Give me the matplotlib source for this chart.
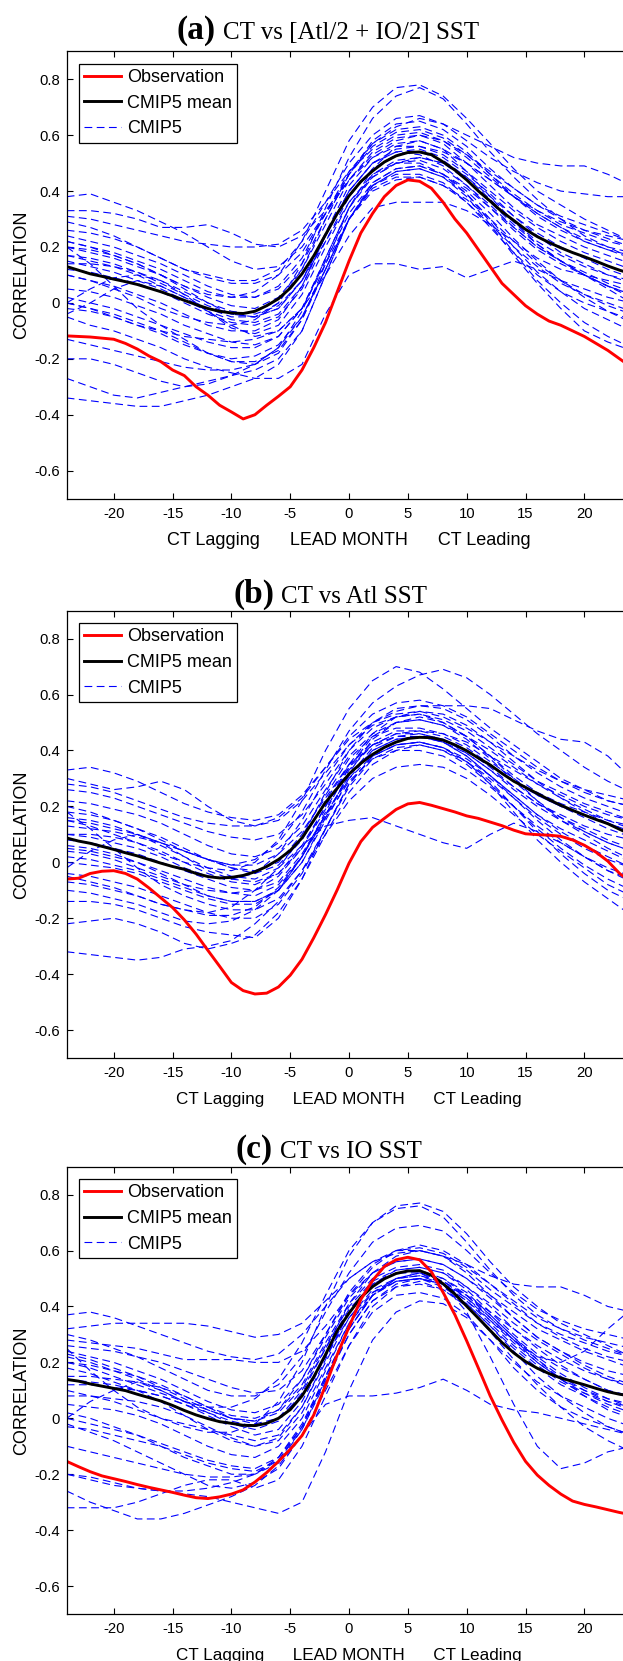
import numpy as np
import matplotlib
matplotlib.use("Agg")
import matplotlib.pyplot as plt

plt.rcParams['font.family'] = ['Liberation Sans', 'DejaVu Sans']
plt.rcParams['axes.unicode_minus'] = False

# ---------------- data ----------------
lead_obs = list(range(-24, 25))          # monthly leads for obs / mean
lead_mod = list(range(-24, 25, 2))       # every 2 months for model curves

xticks = [-20, -15, -10, -5, 0, 5, 10, 15, 20]
yticks = [-0.6, -0.4, -0.2, 0.0, 0.2, 0.4, 0.6, 0.8]
ytick_labels = ['-0.6', '-0.4', '-0.2', '0', '0.2', '0.4', '0.6', '0.8']

panel_letters = ['(a)', '(b)', '(c)']
panel_titles = ['CT vs [Atl/2 + IO/2] SST', 'CT vs Atl SST', 'CT vs IO SST']
legend_labels = ['Observation', 'CMIP5 mean', 'CMIP5']
xlabel_text = 'CT Lagging      LEAD MONTH      CT Leading'
ylabel_text = 'CORRELATION'

# Panel (a)
obs_a = [-0.118, -0.120, -0.122, -0.126, -0.130, -0.145, -0.165, -0.190, -0.210, -0.240,
         -0.260, -0.300, -0.330, -0.366, -0.390, -0.415, -0.400, -0.366, -0.334, -0.300,
         -0.240, -0.160, -0.070, 0.040, 0.150, 0.250, 0.320, 0.380, 0.420, 0.440,
         0.435, 0.410, 0.360, 0.300, 0.250, 0.190, 0.130, 0.070, 0.030, -0.010,
         -0.040, -0.065, -0.080, -0.100, -0.120, -0.145, -0.170, -0.200, -0.230]
mean_a = [0.130, 0.117, 0.104, 0.095, 0.085, 0.076, 0.066, 0.053, 0.040, 0.025,
          0.009, -0.006, -0.020, -0.030, -0.036, -0.038, -0.030, -0.010, 0.015, 0.053,
          0.104, 0.168, 0.244, 0.320, 0.383, 0.434, 0.472, 0.504, 0.526, 0.538,
          0.540, 0.530, 0.504, 0.475, 0.440, 0.400, 0.364, 0.326, 0.295, 0.263,
          0.237, 0.216, 0.197, 0.180, 0.165, 0.149, 0.132, 0.117, 0.104]
models_a = [
    [0.22, 0.2, 0.17, 0.14, 0.1, 0.06, 0.03, 0.02, 0.04, 0.1, 0.22, 0.4, 0.58, 0.7, 0.77, 0.78, 0.74, 0.66, 0.57, 0.48, 0.4, 0.35, 0.3, 0.26, 0.22],
    [0.1, 0.08, 0.05, 0.02, -0.02, -0.05, -0.07, -0.08, -0.06, 0.0, 0.14, 0.34, 0.52, 0.66, 0.74, 0.77, 0.73, 0.64, 0.54, 0.45, 0.37, 0.3, 0.24, 0.2, 0.16],
    [0.17, 0.15, 0.13, 0.1, 0.06, 0.02, -0.02, -0.05, -0.05, 0.0, 0.12, 0.3, 0.46, 0.57, 0.63, 0.66, 0.64, 0.6, 0.56, 0.52, 0.5, 0.49, 0.49, 0.46, 0.42],
    [0.29, 0.27, 0.24, 0.2, 0.16, 0.12, 0.1, 0.08, 0.08, 0.12, 0.22, 0.36, 0.5, 0.6, 0.66, 0.67, 0.64, 0.58, 0.52, 0.47, 0.43, 0.4, 0.39, 0.38, 0.38],
    [-0.05, -0.08, -0.1, -0.13, -0.16, -0.2, -0.23, -0.25, -0.27, -0.27, -0.22, -0.04, 0.1, 0.14, 0.14, 0.12, 0.13, 0.09, 0.12, 0.15, 0.12, 0.08, 0.05, 0.02, 0.0],
    [0.0, -0.02, -0.05, -0.08, -0.1, -0.12, -0.13, -0.14, -0.13, -0.1, -0.02, 0.1, 0.24, 0.34, 0.36, 0.36, 0.36, 0.33, 0.28, 0.22, 0.16, 0.12, 0.1, 0.08, 0.06],
    [0.38, 0.39, 0.36, 0.33, 0.29, 0.25, 0.2, 0.15, 0.12, 0.13, 0.2, 0.32, 0.44, 0.53, 0.58, 0.6, 0.58, 0.53, 0.47, 0.41, 0.35, 0.31, 0.28, 0.25, 0.22],
    [0.33, 0.33, 0.32, 0.3, 0.27, 0.27, 0.28, 0.25, 0.21, 0.2, 0.24, 0.33, 0.44, 0.52, 0.57, 0.58, 0.55, 0.5, 0.44, 0.38, 0.33, 0.29, 0.26, 0.24, 0.22],
    [0.31, 0.3, 0.28, 0.26, 0.24, 0.22, 0.21, 0.2, 0.2, 0.21, 0.26, 0.36, 0.47, 0.55, 0.6, 0.61, 0.58, 0.52, 0.45, 0.38, 0.32, 0.27, 0.23, 0.2, 0.18],
    [0.22, 0.2, 0.18, 0.15, 0.12, 0.08, 0.04, 0.02, 0.02, 0.06, 0.16, 0.32, 0.47, 0.57, 0.62, 0.63, 0.6, 0.54, 0.46, 0.38, 0.31, 0.26, 0.22, 0.19, 0.17],
    [0.2, 0.18, 0.16, 0.13, 0.1, 0.06, 0.02, -0.01, -0.02, 0.02, 0.12, 0.28, 0.44, 0.54, 0.59, 0.6, 0.57, 0.5, 0.42, 0.34, 0.28, 0.24, 0.2, 0.17, 0.14],
    [0.17, 0.16, 0.14, 0.11, 0.07, 0.03, -0.01, -0.04, -0.05, -0.02, 0.08, 0.25, 0.42, 0.52, 0.56, 0.56, 0.53, 0.47, 0.4, 0.33, 0.27, 0.22, 0.18, 0.15, 0.12],
    [0.15, 0.13, 0.11, 0.08, 0.05, 0.01, -0.03, -0.06, -0.07, -0.04, 0.06, 0.24, 0.4, 0.5, 0.54, 0.55, 0.52, 0.46, 0.39, 0.31, 0.25, 0.2, 0.16, 0.12, 0.09],
    [0.12, 0.11, 0.09, 0.07, 0.04, 0.0, -0.04, -0.07, -0.08, -0.05, 0.05, 0.22, 0.38, 0.48, 0.53, 0.54, 0.51, 0.45, 0.37, 0.29, 0.22, 0.17, 0.13, 0.1, 0.07],
    [0.1, 0.08, 0.06, 0.03, 0.0, -0.04, -0.08, -0.1, -0.1, -0.06, 0.06, 0.24, 0.4, 0.5, 0.54, 0.53, 0.49, 0.42, 0.34, 0.26, 0.19, 0.14, 0.1, 0.06, 0.03],
    [0.0, 0.05, 0.09, 0.1, 0.08, 0.03, -0.03, -0.09, -0.11, -0.08, 0.03, 0.2, 0.36, 0.46, 0.5, 0.51, 0.48, 0.42, 0.35, 0.27, 0.2, 0.15, 0.11, 0.07, 0.04],
    [0.05, 0.04, 0.02, -0.01, -0.04, -0.08, -0.11, -0.14, -0.15, -0.12, -0.02, 0.16, 0.34, 0.46, 0.51, 0.52, 0.5, 0.44, 0.36, 0.28, 0.21, 0.15, 0.1, 0.05, 0.0],
    [0.02, 0.0, -0.02, -0.05, -0.08, -0.11, -0.14, -0.16, -0.16, -0.12, -0.02, 0.15, 0.32, 0.43, 0.48, 0.49, 0.46, 0.4, 0.32, 0.23, 0.15, 0.08, 0.02, -0.03, -0.07],
    [0.2, 0.14, 0.06, -0.02, -0.08, -0.13, -0.18, -0.21, -0.21, -0.17, -0.06, 0.12, 0.3, 0.42, 0.47, 0.48, 0.45, 0.39, 0.3, 0.2, 0.11, 0.04, -0.02, -0.06, -0.1],
    [-0.13, -0.15, -0.17, -0.19, -0.21, -0.23, -0.24, -0.24, -0.22, -0.16, -0.03, 0.16, 0.34, 0.45, 0.5, 0.5, 0.46, 0.39, 0.29, 0.18, 0.08, 0.0, -0.07, -0.12, -0.16],
    [-0.2, -0.2, -0.22, -0.25, -0.28, -0.3, -0.29, -0.26, -0.22, -0.16, -0.05, 0.12, 0.3, 0.42, 0.47, 0.48, 0.45, 0.38, 0.28, 0.17, 0.07, -0.02, -0.1, -0.14, -0.17],
    [-0.27, -0.3, -0.33, -0.34, -0.32, -0.3, -0.28, -0.26, -0.24, -0.2, -0.1, 0.1, 0.3, 0.42, 0.46, 0.46, 0.43, 0.36, 0.27, 0.18, 0.1, 0.04, 0.0, -0.03, -0.06],
    [-0.34, -0.35, -0.36, -0.37, -0.37, -0.35, -0.33, -0.3, -0.27, -0.22, -0.1, 0.1, 0.3, 0.43, 0.48, 0.49, 0.46, 0.41, 0.34, 0.27, 0.2, 0.15, 0.1, 0.06, 0.02],
    [0.0, -0.02, -0.04, -0.07, -0.1, -0.14, -0.18, -0.21, -0.22, -0.18, -0.06, 0.14, 0.34, 0.48, 0.56, 0.58, 0.55, 0.47, 0.38, 0.29, 0.21, 0.15, 0.1, 0.06, 0.03],
    [0.24, 0.22, 0.2, 0.17, 0.14, 0.1, 0.06, 0.03, 0.02, 0.05, 0.14, 0.3, 0.46, 0.58, 0.64, 0.65, 0.62, 0.56, 0.48, 0.41, 0.35, 0.3, 0.26, 0.23, 0.2],
    [0.2, 0.19, 0.17, 0.14, 0.1, 0.05, 0.0, -0.04, -0.05, -0.02, 0.08, 0.24, 0.4, 0.5, 0.55, 0.56, 0.54, 0.5, 0.44, 0.38, 0.32, 0.27, 0.22, 0.19, 0.16],
    [0.14, 0.14, 0.13, 0.11, 0.08, 0.04, 0.0, -0.03, -0.04, -0.01, 0.08, 0.22, 0.36, 0.45, 0.5, 0.52, 0.5, 0.45, 0.38, 0.31, 0.24, 0.18, 0.14, 0.1, 0.08],
    [-0.04, 0.0, 0.05, 0.08, 0.06, 0.02, -0.03, -0.08, -0.12, -0.1, -0.02, 0.14, 0.3, 0.4, 0.44, 0.45, 0.42, 0.37, 0.3, 0.22, 0.14, 0.08, 0.03, -0.01, -0.04],
    [0.26, 0.25, 0.23, 0.2, 0.16, 0.12, 0.09, 0.07, 0.07, 0.1, 0.18, 0.32, 0.46, 0.56, 0.61, 0.62, 0.59, 0.53, 0.46, 0.39, 0.33, 0.28, 0.25, 0.22, 0.2],
    [-0.02, -0.03, -0.05, -0.08, -0.11, -0.15, -0.18, -0.2, -0.19, -0.15, -0.05, 0.12, 0.3, 0.41, 0.45, 0.45, 0.42, 0.36, 0.28, 0.2, 0.13, 0.07, 0.03, 0.0, -0.03],
]

# Panel (b)
obs_b = [-0.060, -0.057, -0.040, -0.032, -0.030, -0.040, -0.060, -0.092, -0.127, -0.162,
         -0.206, -0.257, -0.315, -0.372, -0.430, -0.459, -0.471, -0.468, -0.446, -0.404,
         -0.347, -0.270, -0.187, -0.098, -0.003, 0.074, 0.125, 0.157, 0.189, 0.209,
         0.214, 0.204, 0.192, 0.180, 0.166, 0.157, 0.144, 0.131, 0.115, 0.102,
         0.099, 0.097, 0.093, 0.080, 0.061, 0.036, 0.004, -0.040, -0.073]
mean_b = [0.087, 0.076, 0.068, 0.057, 0.046, 0.034, 0.023, 0.010, -0.003, -0.015,
          -0.025, -0.040, -0.051, -0.056, -0.054, -0.047, -0.034, -0.015, 0.010, 0.042,
          0.087, 0.150, 0.214, 0.265, 0.316, 0.354, 0.386, 0.411, 0.430, 0.443,
          0.447, 0.446, 0.437, 0.420, 0.399, 0.373, 0.348, 0.318, 0.290, 0.268,
          0.246, 0.224, 0.204, 0.186, 0.169, 0.153, 0.138, 0.118, 0.099]
models_b = [
    [0.15, 0.13, 0.1, 0.07, 0.03, 0.0, -0.02, -0.03, 0.0, 0.08, 0.22, 0.4, 0.55, 0.65, 0.7, 0.68, 0.62, 0.55, 0.48, 0.42, 0.36, 0.3, 0.26, 0.22, 0.2],
    [0.2, 0.18, 0.15, 0.12, 0.08, 0.04, 0.01, -0.01, 0.01, 0.07, 0.18, 0.33, 0.47, 0.57, 0.63, 0.67, 0.69, 0.66, 0.6, 0.53, 0.46, 0.4, 0.34, 0.29, 0.25],
    [0.1, 0.09, 0.07, 0.05, 0.02, -0.02, -0.05, -0.06, -0.04, 0.03, 0.15, 0.3, 0.42, 0.5, 0.54, 0.56, 0.56, 0.56, 0.55, 0.51, 0.47, 0.44, 0.43, 0.38, 0.3],
    [-0.05, -0.07, -0.09, -0.12, -0.15, -0.17, -0.18, -0.16, -0.1, -0.02, 0.06, 0.13, 0.15, 0.16, 0.13, 0.1, 0.07, 0.05, 0.1, 0.14, 0.11, 0.07, 0.02, -0.03, -0.06],
    [-0.32, -0.33, -0.34, -0.35, -0.34, -0.31, -0.3, -0.28, -0.22, -0.14, -0.03, 0.1, 0.22, 0.3, 0.34, 0.35, 0.34, 0.3, 0.24, 0.17, 0.1, 0.04, -0.02, -0.08, -0.12],
    [-0.22, -0.21, -0.2, -0.22, -0.25, -0.29, -0.31, -0.29, -0.26, -0.18, -0.06, 0.1, 0.25, 0.35, 0.4, 0.42, 0.4, 0.36, 0.28, 0.18, 0.08, 0.0, -0.07, -0.13, -0.19],
    [-0.14, -0.14, -0.15, -0.17, -0.2, -0.23, -0.25, -0.26, -0.27, -0.2, -0.06, 0.12, 0.28, 0.38, 0.42, 0.43, 0.41, 0.36, 0.29, 0.2, 0.11, 0.03, -0.04, -0.1, -0.14],
    [0.33, 0.34, 0.32, 0.29, 0.25, 0.21, 0.18, 0.16, 0.15, 0.17, 0.24, 0.34, 0.44, 0.5, 0.53, 0.54, 0.52, 0.48, 0.43, 0.38, 0.33, 0.29, 0.26, 0.24, 0.22],
    [0.3, 0.28, 0.26, 0.27, 0.29, 0.26, 0.2, 0.15, 0.13, 0.15, 0.22, 0.32, 0.42, 0.49, 0.52, 0.53, 0.5, 0.45, 0.38, 0.31, 0.25, 0.21, 0.18, 0.15, 0.13],
    [0.26, 0.25, 0.23, 0.2, 0.17, 0.14, 0.11, 0.09, 0.08, 0.1, 0.17, 0.28, 0.4, 0.48, 0.52, 0.53, 0.51, 0.47, 0.41, 0.35, 0.29, 0.25, 0.21, 0.18, 0.15],
    [0.22, 0.21, 0.19, 0.17, 0.14, 0.1, 0.06, 0.03, 0.02, 0.05, 0.13, 0.26, 0.38, 0.46, 0.5, 0.51, 0.49, 0.45, 0.4, 0.34, 0.28, 0.23, 0.19, 0.15, 0.12],
    [0.18, 0.17, 0.15, 0.12, 0.09, 0.05, 0.01, -0.02, -0.03, 0.0, 0.1, 0.24, 0.37, 0.45, 0.48, 0.48, 0.46, 0.42, 0.36, 0.3, 0.24, 0.2, 0.16, 0.12, 0.09],
    [0.15, 0.14, 0.12, 0.1, 0.07, 0.04, 0.01, -0.02, -0.04, -0.01, 0.08, 0.22, 0.35, 0.43, 0.47, 0.47, 0.45, 0.41, 0.35, 0.29, 0.24, 0.2, 0.17, 0.14, 0.11],
    [-0.02, 0.04, 0.08, 0.1, 0.07, 0.02, -0.03, -0.06, -0.07, -0.04, 0.05, 0.19, 0.33, 0.42, 0.46, 0.46, 0.44, 0.39, 0.33, 0.26, 0.2, 0.15, 0.11, 0.07, 0.04],
    [0.08, 0.07, 0.05, 0.03, 0.0, -0.03, -0.06, -0.09, -0.1, -0.07, 0.03, 0.17, 0.31, 0.4, 0.44, 0.45, 0.43, 0.38, 0.31, 0.24, 0.17, 0.12, 0.08, 0.04, 0.0],
    [0.05, 0.04, 0.02, 0.0, -0.03, -0.06, -0.09, -0.11, -0.12, -0.08, 0.02, 0.17, 0.31, 0.41, 0.45, 0.46, 0.44, 0.4, 0.34, 0.27, 0.21, 0.16, 0.12, 0.08, 0.05],
    [0.02, 0.01, -0.01, -0.03, -0.06, -0.09, -0.12, -0.14, -0.14, -0.1, 0.0, 0.15, 0.3, 0.4, 0.44, 0.45, 0.43, 0.38, 0.31, 0.23, 0.15, 0.08, 0.02, -0.03, -0.07],
    [0.18, 0.12, 0.05, -0.02, -0.08, -0.12, -0.15, -0.17, -0.17, -0.13, -0.03, 0.12, 0.27, 0.37, 0.41, 0.42, 0.4, 0.35, 0.28, 0.2, 0.12, 0.05, -0.01, -0.06, -0.1],
    [-0.04, -0.05, -0.07, -0.09, -0.12, -0.15, -0.18, -0.2, -0.2, -0.15, -0.04, 0.12, 0.28, 0.38, 0.42, 0.43, 0.41, 0.36, 0.3, 0.23, 0.16, 0.1, 0.05, 0.01, -0.02],
    [0.0, -0.01, -0.02, -0.04, -0.07, -0.1, -0.13, -0.15, -0.15, -0.1, 0.02, 0.18, 0.34, 0.45, 0.5, 0.51, 0.49, 0.44, 0.37, 0.29, 0.22, 0.16, 0.11, 0.07, 0.04],
    [0.16, 0.15, 0.13, 0.1, 0.06, 0.02, -0.02, -0.05, -0.06, -0.02, 0.09, 0.25, 0.4, 0.5, 0.55, 0.56, 0.55, 0.51, 0.45, 0.38, 0.32, 0.27, 0.23, 0.2, 0.17],
    [0.1, 0.1, 0.09, 0.07, 0.04, 0.0, -0.04, -0.07, -0.08, -0.04, 0.06, 0.2, 0.34, 0.42, 0.46, 0.47, 0.46, 0.43, 0.38, 0.33, 0.28, 0.24, 0.2, 0.17, 0.15],
    [0.06, 0.05, 0.03, 0.0, -0.04, -0.08, -0.12, -0.14, -0.14, -0.1, 0.0, 0.16, 0.32, 0.44, 0.5, 0.52, 0.5, 0.45, 0.38, 0.3, 0.22, 0.15, 0.1, 0.05, 0.01],
    [0.28, 0.27, 0.25, 0.22, 0.19, 0.16, 0.14, 0.13, 0.13, 0.16, 0.23, 0.34, 0.45, 0.53, 0.57, 0.58, 0.56, 0.52, 0.46, 0.4, 0.34, 0.29, 0.25, 0.22, 0.2],
    [-0.1, -0.11, -0.13, -0.15, -0.18, -0.21, -0.22, -0.21, -0.17, -0.1, 0.02, 0.17, 0.3, 0.38, 0.42, 0.43, 0.41, 0.37, 0.31, 0.24, 0.17, 0.11, 0.06, 0.02, -0.02],
    [0.04, 0.03, 0.01, -0.02, -0.05, -0.08, -0.1, -0.11, -0.1, -0.05, 0.05, 0.2, 0.35, 0.46, 0.52, 0.54, 0.53, 0.49, 0.43, 0.36, 0.29, 0.23, 0.18, 0.14, 0.11],
    [0.13, 0.12, 0.11, 0.09, 0.07, 0.04, 0.01, -0.01, -0.01, 0.03, 0.11, 0.23, 0.35, 0.42, 0.45, 0.45, 0.43, 0.39, 0.33, 0.27, 0.21, 0.17, 0.13, 0.1, 0.08],
    [-0.07, -0.08, -0.1, -0.12, -0.15, -0.17, -0.19, -0.19, -0.16, -0.09, 0.02, 0.16, 0.29, 0.37, 0.4, 0.4, 0.38, 0.33, 0.27, 0.2, 0.13, 0.07, 0.02, -0.02, -0.05],
]

# Panel (c)
obs_c = [-0.154, -0.173, -0.191, -0.206, -0.216, -0.226, -0.237, -0.247, -0.256, -0.265,
         -0.275, -0.284, -0.287, -0.281, -0.271, -0.256, -0.228, -0.194, -0.154, -0.111,
         -0.062, 0.012, 0.117, 0.228, 0.327, 0.425, 0.493, 0.543, 0.567, 0.576,
         0.567, 0.524, 0.450, 0.370, 0.277, 0.179, 0.080, -0.006, -0.086, -0.154,
         -0.203, -0.240, -0.271, -0.296, -0.308, -0.317, -0.327, -0.337, -0.345]
mean_c = [0.139, 0.133, 0.123, 0.115, 0.107, 0.099, 0.086, 0.074, 0.062, 0.046,
          0.028, 0.012, -0.001, -0.012, -0.018, -0.025, -0.026, -0.018, 0.000, 0.031,
          0.080, 0.148, 0.228, 0.314, 0.376, 0.432, 0.471, 0.499, 0.518, 0.527,
          0.528, 0.512, 0.481, 0.444, 0.401, 0.358, 0.314, 0.271, 0.234, 0.203,
          0.179, 0.160, 0.144, 0.132, 0.120, 0.107, 0.095, 0.086, 0.080]
models_c = [
    [0.1, 0.08, 0.06, 0.03, 0.0, -0.03, -0.05, -0.05, -0.02, 0.06, 0.2, 0.4, 0.58, 0.7, 0.76, 0.77, 0.74, 0.66, 0.56, 0.47, 0.4, 0.34, 0.3, 0.26, 0.22],
    [0.2, 0.18, 0.15, 0.12, 0.09, 0.06, 0.04, 0.04, 0.07, 0.14, 0.27, 0.44, 0.6, 0.7, 0.75, 0.76, 0.72, 0.63, 0.53, 0.44, 0.37, 0.32, 0.28, 0.25, 0.22],
    [0.3, 0.28, 0.25, 0.22, 0.18, 0.14, 0.1, 0.08, 0.08, 0.12, 0.22, 0.38, 0.52, 0.63, 0.68, 0.69, 0.67, 0.6, 0.52, 0.45, 0.39, 0.35, 0.32, 0.3, 0.28],
    [0.23, 0.21, 0.18, 0.15, 0.11, 0.07, 0.03, 0.0, -0.01, 0.03, 0.14, 0.3, 0.45, 0.55, 0.6, 0.6, 0.58, 0.55, 0.51, 0.48, 0.47, 0.47, 0.44, 0.4, 0.38],
    [0.0, -0.02, -0.04, -0.06, -0.09, -0.12, -0.15, -0.17, -0.18, -0.14, -0.03, 0.14, 0.3, 0.42, 0.48, 0.5, 0.48, 0.42, 0.35, 0.28, 0.22, 0.2, 0.24, 0.32, 0.39],
    [-0.02, -0.05, -0.08, -0.12, -0.16, -0.2, -0.24, -0.25, -0.23, -0.18, -0.06, 0.05, 0.08, 0.08, 0.09, 0.11, 0.14, 0.1, 0.05, 0.03, 0.02, 0.0, -0.02, -0.04, -0.06],
    [-0.2, -0.22, -0.24, -0.25, -0.26, -0.27, -0.28, -0.3, -0.32, -0.34, -0.3, -0.12, 0.1, 0.28, 0.38, 0.42, 0.41, 0.36, 0.28, 0.2, 0.13, 0.08, 0.04, 0.0, -0.03],
    [-0.26, -0.3, -0.33, -0.36, -0.36, -0.34, -0.31, -0.28, -0.24, -0.17, -0.06, 0.1, 0.26, 0.38, 0.44, 0.45, 0.43, 0.37, 0.28, 0.18, 0.1, 0.04, 0.0, -0.03, -0.06],
    [-0.32, -0.32, -0.32, -0.3, -0.27, -0.24, -0.22, -0.22, -0.25, -0.22, -0.1, 0.08, 0.26, 0.4, 0.47, 0.49, 0.46, 0.4, 0.31, 0.21, 0.12, 0.04, -0.03, -0.08, -0.12],
    [-0.2, -0.21, -0.23, -0.25, -0.26, -0.26, -0.25, -0.23, -0.2, -0.14, -0.02, 0.15, 0.32, 0.44, 0.5, 0.52, 0.48, 0.38, 0.22, 0.05, -0.1, -0.18, -0.16, -0.12, -0.1],
    [0.37, 0.38, 0.36, 0.33, 0.3, 0.27, 0.24, 0.22, 0.21, 0.23, 0.3, 0.4, 0.5, 0.56, 0.59, 0.6, 0.58, 0.53, 0.46, 0.4, 0.34, 0.3, 0.27, 0.24, 0.22],
    [0.32, 0.33, 0.34, 0.34, 0.34, 0.34, 0.33, 0.31, 0.29, 0.3, 0.34, 0.42, 0.5, 0.56, 0.6, 0.61, 0.59, 0.54, 0.48, 0.42, 0.36, 0.32, 0.29, 0.27, 0.25],
    [0.28, 0.27, 0.26, 0.25, 0.23, 0.21, 0.21, 0.21, 0.2, 0.2, 0.24, 0.33, 0.44, 0.52, 0.56, 0.57, 0.55, 0.5, 0.44, 0.38, 0.32, 0.28, 0.24, 0.21, 0.18],
    [0.24, 0.22, 0.2, 0.17, 0.14, 0.1, 0.06, 0.03, 0.02, 0.05, 0.14, 0.29, 0.43, 0.52, 0.56, 0.57, 0.55, 0.5, 0.43, 0.36, 0.29, 0.24, 0.19, 0.15, 0.12],
    [0.2, 0.19, 0.17, 0.15, 0.12, 0.08, 0.04, 0.01, 0.0, 0.03, 0.12, 0.27, 0.41, 0.5, 0.54, 0.55, 0.53, 0.47, 0.4, 0.32, 0.25, 0.19, 0.14, 0.1, 0.07],
    [0.0, 0.06, 0.1, 0.13, 0.1, 0.06, 0.03, 0.0, -0.01, 0.02, 0.11, 0.26, 0.4, 0.49, 0.53, 0.54, 0.52, 0.47, 0.41, 0.34, 0.28, 0.23, 0.18, 0.14, 0.11],
    [0.14, 0.13, 0.12, 0.1, 0.08, 0.05, 0.02, -0.01, -0.03, 0.0, 0.1, 0.25, 0.39, 0.48, 0.52, 0.53, 0.5, 0.44, 0.36, 0.28, 0.21, 0.15, 0.1, 0.06, 0.03],
    [0.12, 0.12, 0.11, 0.1, 0.08, 0.05, 0.01, -0.03, -0.06, -0.04, 0.06, 0.22, 0.38, 0.48, 0.53, 0.54, 0.52, 0.46, 0.38, 0.3, 0.23, 0.18, 0.14, 0.1, 0.08],
    [0.25, 0.17, 0.1, 0.04, 0.0, -0.02, -0.04, -0.06, -0.08, -0.06, 0.04, 0.2, 0.36, 0.46, 0.5, 0.51, 0.49, 0.44, 0.37, 0.29, 0.22, 0.16, 0.11, 0.07, 0.04],
    [0.08, 0.08, 0.07, 0.06, 0.04, 0.01, -0.03, -0.07, -0.1, -0.08, 0.02, 0.18, 0.34, 0.44, 0.49, 0.5, 0.48, 0.43, 0.36, 0.28, 0.2, 0.14, 0.09, 0.05, 0.02],
    [0.05, 0.04, 0.03, 0.01, -0.02, -0.06, -0.1, -0.13, -0.14, -0.1, 0.0, 0.17, 0.34, 0.45, 0.5, 0.52, 0.5, 0.45, 0.37, 0.29, 0.21, 0.14, 0.08, 0.03, 0.0],
    [-0.03, -0.04, -0.06, -0.08, -0.1, -0.13, -0.16, -0.18, -0.19, -0.15, -0.04, 0.13, 0.3, 0.42, 0.47, 0.48, 0.46, 0.41, 0.33, 0.24, 0.15, 0.08, 0.02, -0.03, -0.06],
    [0.22, 0.2, 0.17, 0.14, 0.1, 0.06, 0.02, -0.02, -0.04, -0.01, 0.09, 0.25, 0.41, 0.52, 0.58, 0.6, 0.58, 0.52, 0.44, 0.36, 0.29, 0.24, 0.2, 0.17, 0.15],
    [0.18, 0.16, 0.13, 0.1, 0.06, 0.01, -0.04, -0.08, -0.1, -0.07, 0.04, 0.21, 0.38, 0.48, 0.52, 0.52, 0.49, 0.43, 0.35, 0.27, 0.2, 0.14, 0.1, 0.07, 0.05],
    [-0.1, -0.12, -0.14, -0.16, -0.18, -0.2, -0.21, -0.21, -0.2, -0.15, -0.03, 0.15, 0.32, 0.44, 0.49, 0.5, 0.47, 0.41, 0.33, 0.25, 0.18, 0.12, 0.08, 0.04, 0.01],
    [0.26, 0.25, 0.24, 0.22, 0.2, 0.17, 0.14, 0.11, 0.09, 0.1, 0.17, 0.3, 0.44, 0.54, 0.6, 0.62, 0.6, 0.55, 0.48, 0.41, 0.34, 0.29, 0.25, 0.22, 0.2],
    [0.02, 0.0, -0.03, -0.06, -0.1, -0.14, -0.17, -0.2, -0.2, -0.16, -0.04, 0.14, 0.32, 0.44, 0.5, 0.51, 0.48, 0.42, 0.34, 0.26, 0.19, 0.13, 0.09, 0.06, 0.04],
    [0.15, 0.15, 0.14, 0.13, 0.11, 0.08, 0.04, 0.0, -0.02, 0.0, 0.08, 0.22, 0.36, 0.45, 0.49, 0.5, 0.48, 0.44, 0.38, 0.32, 0.26, 0.21, 0.17, 0.14, 0.12],
]

obs_all = [obs_a, obs_b, obs_c]
mean_all = [mean_a, mean_b, mean_c]
models_all = [models_a, models_b, models_c]

# ---------------- layout (pixels of the 623 x 1661 figure) ----------------
W, H = 623, 1661
fig = plt.figure(figsize=(W / 100, H / 100), dpi=100)

ax_left_px, ax_right_px = 66.7, 631.4          # right spine lies just outside the picture
ax_tops = [51.3, 610.7, 1166.7]
ax_h = 447.3
title_base = [38.6, 602.9, 1157.9]
letter_right = [216.0, 274.4, 273.0]
title_left = [223.0, 281.0, 280.0]
xlabel_size = [13.0, 12.35, 12.35]

for k in range(3):
    top = ax_tops[k]
    ax = fig.add_axes([ax_left_px / W, (H - top - ax_h) / H,
                       (ax_right_px - ax_left_px) / W, ax_h / H])

    for m in models_all[k]:
        ax.plot(lead_mod, m, color=(0, 0, 1), lw=0.8, ls=(0, (7, 4)))
    ax.plot(lead_obs, mean_all[k], color='black', lw=2.1, solid_capstyle='butt')
    ax.plot(lead_obs, obs_all[k], color=(1, 0, 0), lw=2.1, solid_capstyle='butt')

    ax.set_xlim(-24, 24)
    ax.set_ylim(-0.7, 0.9)
    ax.set_xticks(xticks)
    ax.set_xticklabels([str(v) for v in xticks])
    ax.set_yticks(yticks)
    ax.set_yticklabels(ytick_labels)
    ax.tick_params(direction='in', length=4, width=0.8, top=True, right=True,
                   labelsize=10.7, colors='black')
    ax.tick_params(axis='x', pad=6)
    ax.tick_params(axis='y', pad=5)
    for s in ax.spines.values():
        s.set_linewidth(0.9)

    ax.set_xlabel(xlabel_text, fontsize=xlabel_size[k], va='baseline')
    ax.xaxis.set_label_coords(0.5, -46.0 / ax_h)
    ax.set_ylabel(ylabel_text, fontsize=13, va='baseline')
    ax.yaxis.set_label_coords((26.5 - ax_left_px) / (ax_right_px - ax_left_px), 0.5)

    handles = [
        plt.Line2D([], [], color=(1, 0, 0), lw=2.1),
        plt.Line2D([], [], color='black', lw=2.1),
        plt.Line2D([], [], color=(0, 0, 1), lw=0.8, ls=(0, (7, 4))),
    ]
    leg = ax.legend(handles, legend_labels, loc='upper left',
                    bbox_to_anchor=((78.8 - ax_left_px) / (ax_right_px - ax_left_px),
                                    1 - 12.3 / ax_h),
                    borderaxespad=0, fontsize=13, handlelength=2.05,
                    handletextpad=0.3, borderpad=0.3, labelspacing=0.48,
                    fancybox=False, framealpha=1, edgecolor='black')
    leg.get_frame().set_linewidth(0.9)

    fig.text(letter_right[k] / W, 1 - title_base[k] / H, panel_letters[k],
             ha='right', va='baseline', fontsize=24, fontweight='bold',
             family=['Liberation Serif', 'DejaVu Serif'])
    fig.text(title_left[k] / W, 1 - title_base[k] / H, panel_titles[k],
             ha='left', va='baseline', fontsize=18,
             family=['Liberation Serif', 'DejaVu Serif'])

fig.savefig('out.png', dpi=100)
